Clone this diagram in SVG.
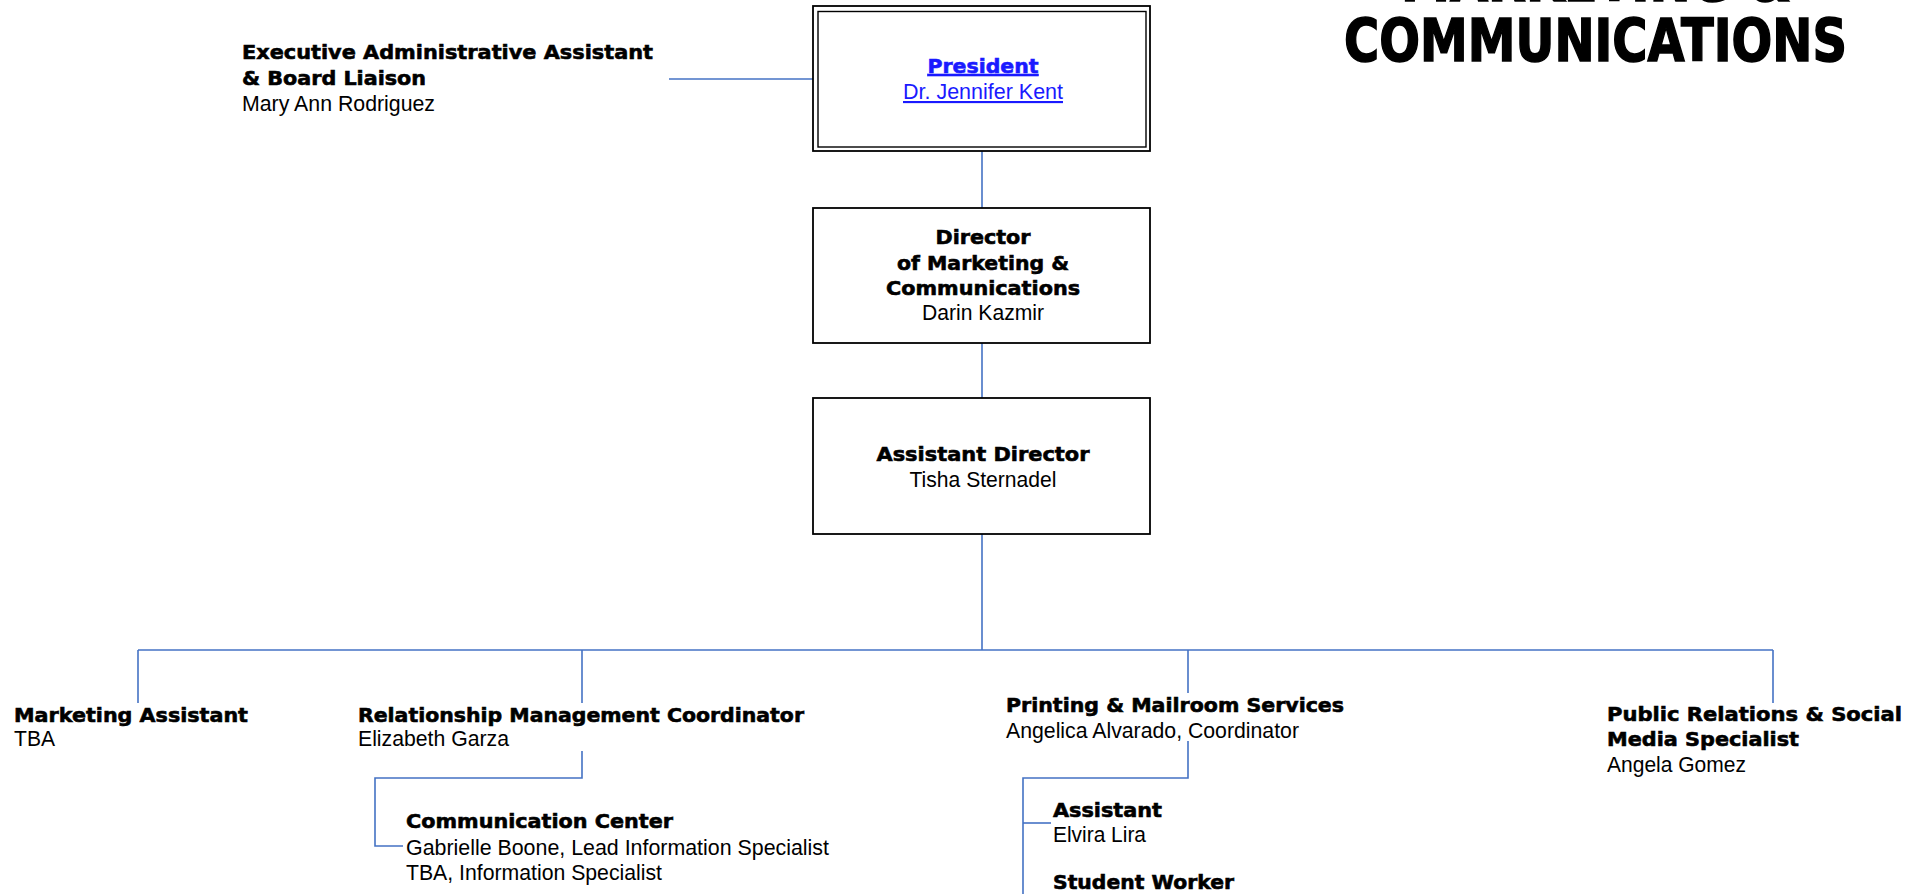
<svg xmlns="http://www.w3.org/2000/svg" width="1923" height="894" viewBox="0 0 1923 894">
  <style>
    .bg { fill: #ffffff; }
    .box { fill: #ffffff; stroke: #000000; stroke-width: 1.8; }
    .box-inner { fill: none; stroke: #000000; stroke-width: 1.4; }
    .conn { fill: none; stroke: #4472c4; stroke-width: 1.6; }
    .h { font-family: "DejaVu Sans", "Liberation Sans", Arial, sans-serif; font-weight: bold; font-size: 20px; fill: #000000; stroke: #000000; stroke-width: 0.6; }
    .n { font-family: "Liberation Sans", Arial, sans-serif; font-size: 21.3px; fill: #000000; }
    .title { font-family: "DejaVu Sans", "Liberation Sans", Arial, sans-serif; font-weight: bold; font-size: 59px; fill: #000000; stroke: #000000; stroke-width: 1.6; }
    .mid { text-anchor: middle; }
    .link { fill: #1a1aff; stroke: #1a1aff; text-decoration: underline; }
    .n.link { stroke: none; }
  </style>

  <rect class="bg" x="0" y="0" width="1923" height="894"/>

  <!-- department title (first line runs off the top edge) -->
  <g id="title">
    <text class="title mid" x="1596" y="1" textLength="390" lengthAdjust="spacingAndGlyphs">MARKETING &amp;</text>
    <text class="title mid" x="1595.5" y="61" textLength="503" lengthAdjust="spacingAndGlyphs">COMMUNICATIONS</text>
  </g>

  <!-- reporting lines -->
  <g id="connectors">
    <path class="conn" d="M669 79 H813"/>
    <path class="conn" d="M982 151 V208"/>
    <path class="conn" d="M982 343 V398"/>
    <path class="conn" d="M982 534 V650"/>
    <path class="conn" d="M138 650 H1773"/>
    <path class="conn" d="M138 650 V703"/>
    <path class="conn" d="M582 650 V703"/>
    <path class="conn" d="M1188 650 V693"/>
    <path class="conn" d="M1773 650 V703"/>
    <path class="conn" d="M582 751 V778 H375 V846 H403"/>
    <path class="conn" d="M1188 741 V778 H1023 V894"/>
    <path class="conn" d="M1023 823 H1051"/>
  </g>

  <g id="president">
    <rect class="box" x="813" y="6" width="337" height="145"/>
    <rect class="box-inner" x="818" y="11.5" width="328" height="135.5"/>
    <text class="h mid link" x="983" y="73" textLength="111" lengthAdjust="spacingAndGlyphs">President</text>
    <text class="n mid link" x="983" y="99" textLength="160" lengthAdjust="spacingAndGlyphs">Dr. Jennifer Kent</text>
  </g>

  <g id="exec-assistant">
    <text class="h" x="242" y="59" textLength="411" lengthAdjust="spacingAndGlyphs">Executive Administrative Assistant</text>
    <text class="h" x="242" y="85" textLength="184" lengthAdjust="spacingAndGlyphs">&amp; Board Liaison</text>
    <text class="n" x="242" y="111" textLength="193" lengthAdjust="spacingAndGlyphs">Mary Ann Rodriguez</text>
  </g>

  <g id="director">
    <rect class="box" x="813" y="208" width="337" height="135"/>
    <text class="h mid" x="983" y="244" textLength="95" lengthAdjust="spacingAndGlyphs">Director</text>
    <text class="h mid" x="983" y="270" textLength="172" lengthAdjust="spacingAndGlyphs">of Marketing &amp;</text>
    <text class="h mid" x="983" y="295" textLength="194" lengthAdjust="spacingAndGlyphs">Communications</text>
    <text class="n mid" x="983" y="320" textLength="122" lengthAdjust="spacingAndGlyphs">Darin Kazmir</text>
  </g>

  <g id="assistant-director">
    <rect class="box" x="813" y="398" width="337" height="136"/>
    <text class="h mid" x="983" y="461" textLength="213" lengthAdjust="spacingAndGlyphs">Assistant Director</text>
    <text class="n mid" x="983" y="487" textLength="147" lengthAdjust="spacingAndGlyphs">Tisha Sternadel</text>
  </g>

  <g id="marketing-assistant">
    <text class="h" x="14" y="722" textLength="234" lengthAdjust="spacingAndGlyphs">Marketing Assistant</text>
    <text class="n" x="14" y="746" textLength="41" lengthAdjust="spacingAndGlyphs">TBA</text>
  </g>

  <g id="relationship-management">
    <text class="h" x="358" y="722" textLength="446" lengthAdjust="spacingAndGlyphs">Relationship Management Coordinator</text>
    <text class="n" x="358" y="746" textLength="151" lengthAdjust="spacingAndGlyphs">Elizabeth Garza</text>
  </g>

  <g id="communication-center">
    <text class="h" x="406" y="828" textLength="267" lengthAdjust="spacingAndGlyphs">Communication Center</text>
    <text class="n" x="406" y="855" textLength="423" lengthAdjust="spacingAndGlyphs">Gabrielle Boone, Lead Information Specialist</text>
    <text class="n" x="406" y="880" textLength="256" lengthAdjust="spacingAndGlyphs">TBA, Information Specialist</text>
  </g>

  <g id="printing-mailroom">
    <text class="h" x="1006" y="712" textLength="338" lengthAdjust="spacingAndGlyphs">Printing &amp; Mailroom Services</text>
    <text class="n" x="1006" y="738" textLength="293" lengthAdjust="spacingAndGlyphs">Angelica Alvarado, Coordinator</text>
  </g>

  <g id="printing-assistant">
    <text class="h" x="1053" y="817" textLength="109" lengthAdjust="spacingAndGlyphs">Assistant</text>
    <text class="n" x="1053" y="842" textLength="93" lengthAdjust="spacingAndGlyphs">Elvira Lira</text>
  </g>

  <g id="student-worker">
    <text class="h" x="1053" y="889" textLength="181" lengthAdjust="spacingAndGlyphs">Student Worker</text>
  </g>

  <g id="public-relations">
    <text class="h" x="1607" y="721" textLength="295" lengthAdjust="spacingAndGlyphs">Public Relations &amp; Social</text>
    <text class="h" x="1607" y="746" textLength="192" lengthAdjust="spacingAndGlyphs">Media Specialist</text>
    <text class="n" x="1607" y="772" textLength="139" lengthAdjust="spacingAndGlyphs">Angela Gomez</text>
  </g>
</svg>
